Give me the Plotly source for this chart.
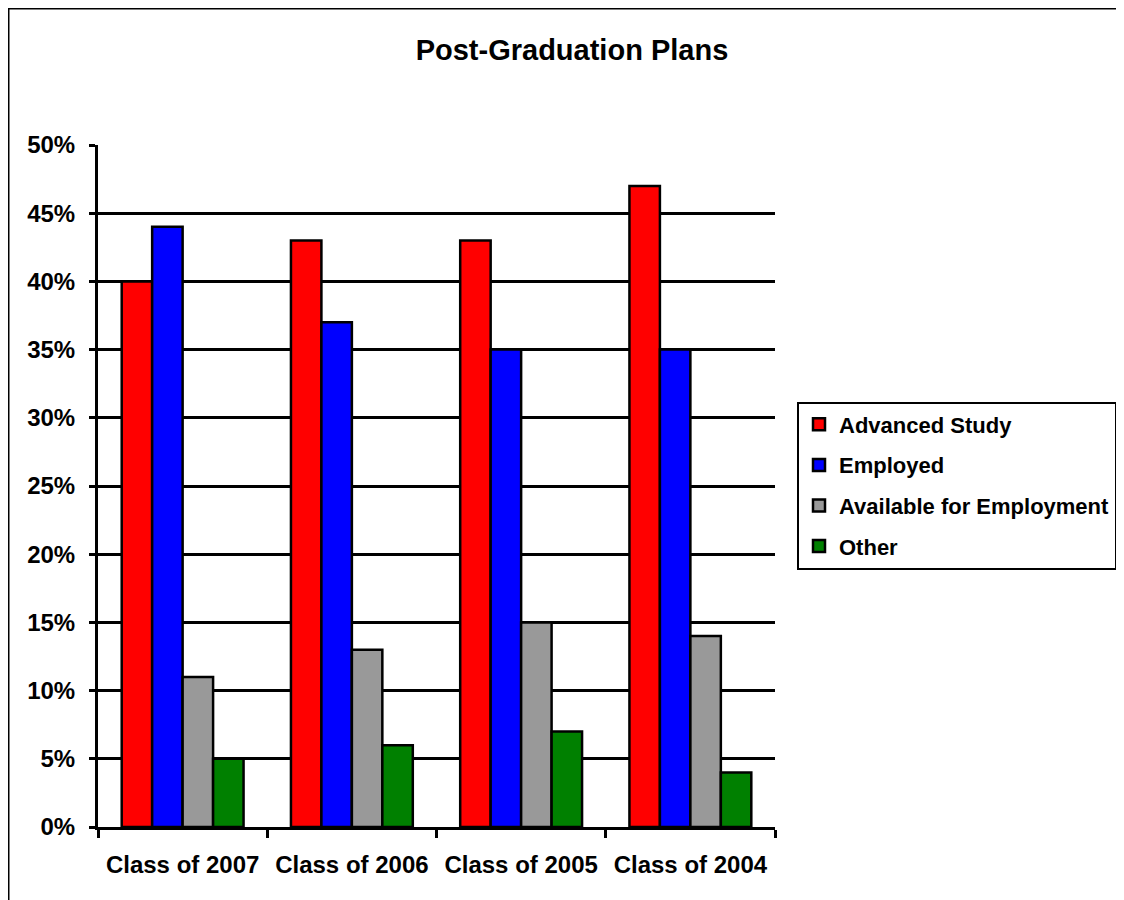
import plotly.graph_objects as go

categories = ["Class of 2007", "Class of 2006", "Class of 2005", "Class of 2004"]
series_names = ["Advanced Study", "Employed", "Available for Employment", "Other"]
advanced_study = [40, 43, 43, 47]
employed = [44, 37, 35, 35]
available = [11, 13, 15, 14]
other = [5, 6, 7, 4]
colors = ["#ff0000", "#0000ff", "#999999", "#008000"]
y_ticks = [0, 5, 10, 15, 20, 25, 30, 35, 40, 45, 50]
y_tick_labels = [f"{v}%" for v in y_ticks]

FONT = "Liberation Sans, Arial, sans-serif"

fig = go.Figure()
for i, (name, vals) in enumerate(zip(series_names, [advanced_study, employed, available, other])):
    fig.add_trace(go.Bar(
        x=categories, y=vals, name=name,
        marker=dict(color=colors[i], line=dict(color="black", width=2.5)),
        legendgroup=name,
    ))

# page has an 8px body margin; work in page pixels and convert
OFF = 8
W, H = 1116, 892
L, T = 98 - OFF, 145 - OFF
R = W - (775 - OFF)
B = H - (827 - OFF)
pw = W - L - R
ph = H - T - B

def px_x(p):
    return (p - OFF - L) / pw

def px_y(p):
    return (H - B - (p - OFF)) / ph

fig.update_layout(
    width=W, height=H,
    margin=dict(l=L, r=R, t=T, b=B, autoexpand=False),
    paper_bgcolor="white", plot_bgcolor="white",
    barmode="group", bargap=0.28, bargroupgap=0,
    title=dict(text="Post-Graduation Plans", x=(572 - OFF) / W, xanchor="center",
               y=1 - (50 - OFF) / H, yanchor="middle",
               font=dict(family=FONT, size=29, color="black", weight="bold")),
    font=dict(family=FONT, color="black"),
    legend=dict(
        x=px_x(797), xanchor="left", y=px_y(485.5), yanchor="middle",
        bordercolor="black", borderwidth=2, bgcolor="white",
        font=dict(family=FONT, size=22, color="black", weight="bold"),
        tracegroupgap=9, itemwidth=30,
    ),
    xaxis=dict(
        showline=True, linecolor="black", linewidth=3,
        ticks="outside", tickson="boundaries", ticklen=8, tickwidth=3, tickcolor="black",
        tickfont=dict(family=FONT, size=24, color="black", weight="bold"),
        ticklabelstandoff=14,
        showgrid=False,
    ),
    yaxis=dict(
        range=[0, 50], tickvals=y_ticks, ticktext=y_tick_labels,
        showline=True, linecolor="black", linewidth=3,
        ticks="outside", ticklen=6, tickwidth=3, tickcolor="black",
        showgrid=True, gridcolor="black", gridwidth=3,
        tickfont=dict(family=FONT, size=24, color="black", weight="bold"),
        ticklabelstandoff=9,
        zeroline=False,
    ),
)

fig.add_shape(type="rect", xref="paper", yref="paper",
              x0=px_x(8), x1=px_x(1135), y0=px_y(915), y1=px_y(8),
              line=dict(color="black", width=3), fillcolor="rgba(0,0,0,0)", layer="above")

fig.write_html("out.html")
